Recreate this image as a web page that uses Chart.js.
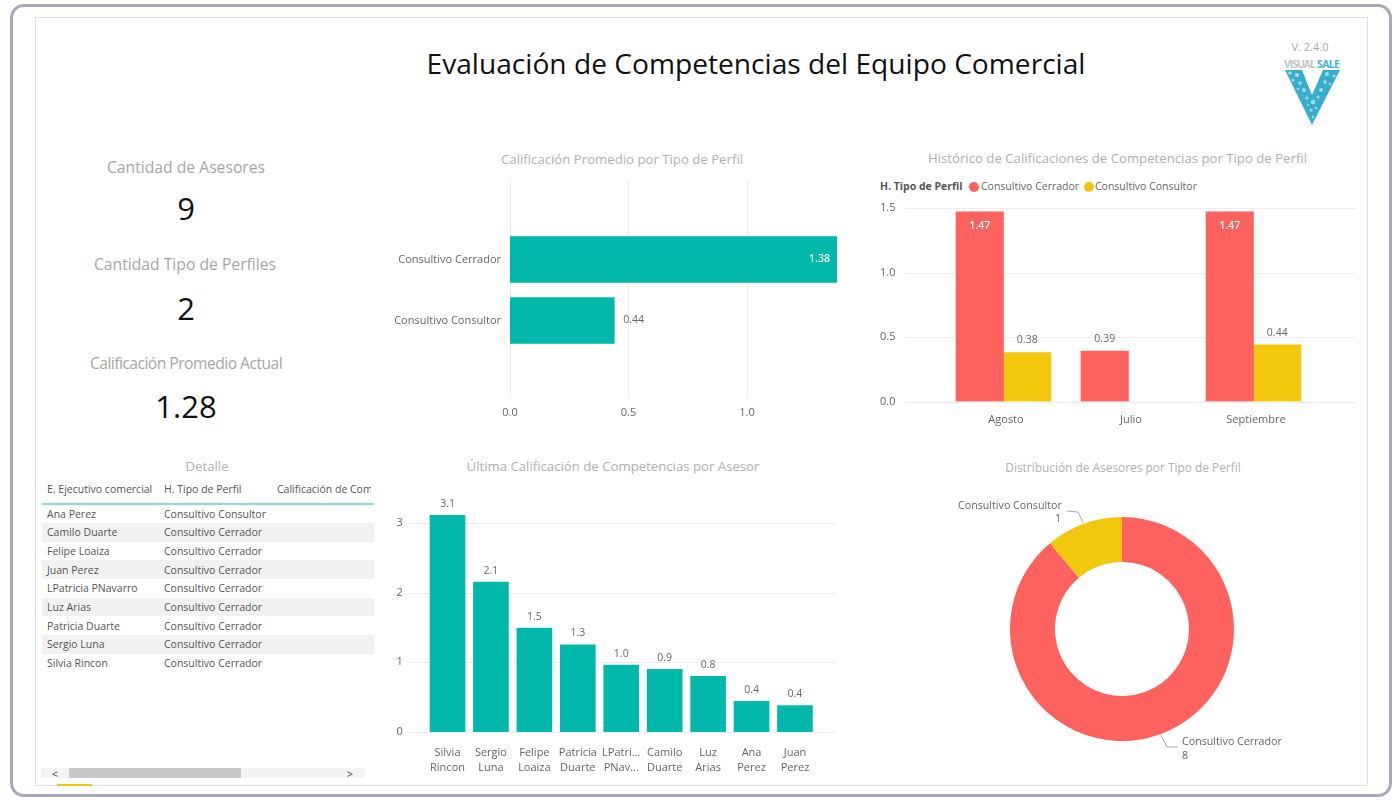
<!DOCTYPE html>
<html lang="es">
<head>
<meta charset="utf-8">
<title>Evaluación de Competencias del Equipo Comercial</title>
<script src="https://cdn.jsdelivr.net/npm/chart.js@4"></script>
<style>
html,body{margin:0;padding:0;background:#fff;width:1400px;height:800px;overflow:hidden;font-family:"Open Sans",sans-serif}
.abs{position:absolute}
.t{position:absolute;white-space:nowrap;transform:translate(-50%,-50%);line-height:1}
.sec{color:#b0b0b0;font-size:13.2px}
.kl{color:#a6a6a6;font-size:15.7px}
.kv{color:#111;font-size:31px}
canvas{position:absolute}
.cell{position:absolute;white-space:nowrap;font-size:10.5px;color:#555;line-height:1;transform:translateY(-50%)}
</style>
</head>
<body>
<div class="abs" style="left:10px;top:4px;width:1376px;height:787px;border:3px solid #a9a9ba;border-radius:14px"></div>
<div class="abs" style="left:35px;top:17px;width:1331px;height:767px;border:1px solid #e2e2e2"></div>
<div class="abs" style="left:57px;top:784px;width:35px;height:2px;background:#f2c80f"></div>

<div class="t" style="left:756px;top:63px;font-size:28.15px;color:#111">Evaluación de Competencias del Equipo Comercial</div>

<div class="t" style="left:1310px;top:46px;font-size:11px;color:#a8a8a8">V. 2.4.0</div>
<svg class="abs" style="left:1280px;top:55px" width="64" height="76" viewBox="0 0 64 76">
  <text x="4" y="13" font-family="Open Sans" font-size="10.5" font-weight="700" fill="#c4c4c4" textLength="32">VISUAL</text>
  <text x="37" y="13" font-family="Open Sans" font-size="10.5" font-weight="700" fill="#3fb2c9" textLength="23">SALE</text>
  <polygon points="5,15 22,15 32,40 43,15 60,15 32,70" fill="#38aecb"/>
  <g fill="#9fdcea">
    <circle cx="10" cy="18" r="1.8"/><circle cx="17" cy="20" r="2.2"/><circle cx="13" cy="25" r="1.5"/>
    <circle cx="20" cy="28" r="1.8"/><circle cx="24" cy="35" r="2"/><circle cx="18" cy="34" r="1.2"/>
    <circle cx="27" cy="43" r="1.6"/><circle cx="33" cy="47" r="2.2"/><circle cx="38" cy="42" r="1.5"/>
    <circle cx="47" cy="19" r="2"/><circle cx="54" cy="21" r="1.5"/><circle cx="45" cy="27" r="1.7"/>
    <circle cx="50" cy="29" r="1.2"/><circle cx="41" cy="35" r="1.9"/><circle cx="31" cy="55" r="1.6"/>
    <circle cx="36" cy="53" r="1.2"/><circle cx="33" cy="62" r="1.2"/><circle cx="28" cy="50" r="1.1"/>
  </g>
</svg>

<div class="t kl" style="left:186px;top:168px">Cantidad de Asesores</div>
<div class="t kv" style="left:186px;top:208px">9</div>
<div class="t kl" style="left:185px;top:265px">Cantidad Tipo de Perfiles</div>
<div class="t kv" style="left:186px;top:308px">2</div>
<div class="t kl" style="left:186px;top:364px;letter-spacing:-.55px">Calificación Promedio Actual</div>
<div class="t kv" style="left:186px;top:406px">1.28</div>

<div class="t sec" style="left:622px;top:159.5px">Calificación Promedio por Tipo de Perfil</div>
<div class="t sec" style="left:1117.5px;top:158.5px">Histórico de Calificaciones de Competencias por Tipo de Perfil</div>
<div class="t sec" style="left:207px;top:466.5px">Detalle</div>
<div class="t sec" style="left:613px;top:466.5px">Última Calificación de Competencias por Asesor</div>
<div class="t sec" style="left:1123px;top:467.5px;font-size:11.9px">Distribución de Asesores por Tipo de Perfil</div>

<div class="abs" style="left:880px;top:180px;font-size:10.5px;font-weight:700;color:#555;line-height:13px;white-space:nowrap">H. Tipo de Perfil</div>
<div class="abs" style="left:969px;top:181.5px;width:10px;height:10px;border-radius:50%;background:#fd625e"></div>
<div class="abs" style="left:981px;top:180px;font-size:10.5px;color:#666;line-height:13px;white-space:nowrap">Consultivo Cerrador</div>
<div class="abs" style="left:1084px;top:181.5px;width:10px;height:10px;border-radius:50%;background:#f2c80f"></div>
<div class="abs" style="left:1095px;top:180px;font-size:10.5px;color:#666;line-height:13px;white-space:nowrap">Consultivo Consultor</div>

<div id="tbl" class="abs" style="left:0;top:0"></div>
<div class="abs" style="left:41px;top:768px;width:324px;height:10px;background:#f3f3f3"></div>
<div class="abs" style="left:69px;top:768px;width:172px;height:10px;background:#c8c8c8"></div>
<div class="t" style="left:55px;top:773px;font-size:11px;color:#444">&lt;</div>
<div class="t" style="left:350px;top:773px;font-size:11px;color:#444">&gt;</div>

<canvas id="c1"></canvas>
<canvas id="c2"></canvas>
<canvas id="c3"></canvas>
<canvas id="c4"></canvas>

<script>
/* ---------- data ---------- */
const perfilLabels = ["Consultivo Cerrador", "Consultivo Consultor"];
const perfilPromedio = [1.38, 0.44];

const meses = ["Agosto", "Julio", "Septiembre"];
const histCerrador = [1.47, 0.39, 1.47];
const histConsultor = [0.38, null, 0.44];

const asesores = [["Silvia","Rincon"],["Sergio","Luna"],["Felipe","Loaiza"],["Patricia","Duarte"],["LPatri...","PNav..."],["Camilo","Duarte"],["Luz","Arias"],["Ana","Perez"],["Juan","Perez"]];
const ultimaCalif = [3.11, 2.15, 1.49, 1.25, 0.96, 0.9, 0.8, 0.44, 0.38];

const distribucion = [8, 1];

const tablaHeader = ["E. Ejecutivo comercial", "H. Tipo de Perfil", "Calificación de Competencias"];
const tablaNombres = ["Ana Perez","Camilo Duarte","Felipe Loaiza","Juan Perez","LPatricia PNavarro","Luz Arias","Patricia Duarte","Sergio Luna","Silvia Rincon"];
const tablaPerfiles = ["Consultivo Consultor","Consultivo Cerrador","Consultivo Cerrador","Consultivo Cerrador","Consultivo Cerrador","Consultivo Cerrador","Consultivo Cerrador","Consultivo Cerrador","Consultivo Cerrador"];

/* ---------- palette ---------- */
const TEAL="#01b8aa", RED="#fd625e", YEL="#f2c80f", GRID="#ececec", TICK="#666", FF='"Open Sans", sans-serif';
Chart.defaults.font.family = FF;
Chart.defaults.animation = false;
Chart.defaults.responsive = false;

/* ---------- table ---------- */
(function(){
  const t=document.getElementById('tbl'); let h='';
  const cols=[47,164,277];
  tablaHeader.forEach((s,i)=>{
    const w = i===2 ? 'width:94px;overflow:hidden;' : '';
    h+=`<div class="cell" style="left:${cols[i]}px;top:489px;${w}line-height:14px">${s}</div>`;
  });
  h+=`<div class="abs" style="left:42px;top:503px;width:332px;height:1.5px;background:#8fdcd6"></div>`;
  tablaNombres.forEach((n,i)=>{
    const y=513.5+i*18.7;
    if(i%2===1) h+=`<div class="abs" style="left:42px;top:${y-9.3}px;width:332px;height:18.7px;background:#f1f1f1"></div>`;
    h+=`<div class="cell" style="left:47px;top:${y}px">${n}</div>`;
    h+=`<div class="cell" style="left:164px;top:${y}px">${tablaPerfiles[i]}</div>`;
  });
  t.innerHTML=h;
})();

/* ---------- helpers ---------- */
function place(id,l,t,w,h){
  const c=document.getElementById(id);
  c.width=w;c.height=h;c.style.left=l+'px';c.style.top=t+'px';c.style.width=w+'px';c.style.height=h+'px';
  return c;
}
// pins the plotting band to fixed page coordinates
function areaPlugin(L,T,W,H,l,t,r,b){
  return {id:'fixArea',afterLayout(ch){
    const a={left:l-L,top:t-T,right:r-L,bottom:b-T};
    a.width=a.right-a.left;a.height=a.bottom-a.top;
    ch.chartArea=a;
    const x=ch.scales.x,y=ch.scales.y;
    x.left=a.left;x.right=a.right;x.width=a.width;x.top=a.bottom;x.bottom=H;x.height=H-a.bottom;
    y.left=0;y.right=a.left;y.width=a.left;y.top=a.top;y.bottom=a.bottom;y.height=a.height;
    x.configure();y.configure();
  }};
}
// grid lines that run beyond the plotting band, as in the original visuals
function gridPlugin(axis,a,b){
  return {id:'extGrid',beforeDatasetsDraw(ch){
    const s=ch.scales[axis],g=ch.ctx;g.save();g.strokeStyle=GRID;g.lineWidth=1;
    s.ticks.forEach(t=>{
      const p=Math.round(s.getPixelForValue(t.value))+.5;g.beginPath();
      if(axis==='x'){g.moveTo(p,a);g.lineTo(p,b);}else{g.moveTo(a,p);g.lineTo(b,p);}
      g.stroke();
    });g.restore();
  }};
}
// value labels computed from the bar elements
function labelPlugin(fmt,rule){
  return {id:'barLabels',afterDatasetsDraw(ch){
    const g=ch.ctx;g.save();g.font=`10.5px ${FF}`;
    ch.data.datasets.forEach((d,di)=>{
      ch.getDatasetMeta(di).data.forEach((el,i)=>{
        if(d.data[i]==null)return;
        rule(g,el,fmt(d.data[i]),d.data[i]);
      });
    });g.restore();
  }};
}
const baseTicks={color:TICK,font:{size:11}};
const noGrid={display:false,drawTicks:false};
const common={layout:{autoPadding:false},plugins:{legend:{display:false},tooltip:{enabled:false}}};

/* ---------- chart 1: promedio por tipo de perfil ---------- */
{
  const L=385,T=170,W=470,H=260;
  new Chart(place('c1',L,T,W,H),{
    type:'bar',
    data:{labels:perfilLabels,datasets:[{data:perfilPromedio,backgroundColor:TEAL,barThickness:46}]},
    options:{...common,indexAxis:'y',
      scales:{
        x:{min:0,max:1.38,grid:noGrid,border:{display:false},
          afterBuildTicks(s){s.ticks=s.ticks.filter(t=>t.value%0.5===0);},
          ticks:{...baseTicks,stepSize:.5,padding:55,callback:v=>v.toFixed(1)}},
        y:{grid:noGrid,border:{display:false},
          ticks:{...baseTicks,padding:9}}
      }},
    plugins:[areaPlugin(L,T,W,H,510,229,837,351),gridPlugin('x',180-T,398-T),labelPlugin(v=>v.toFixed(2),(g,el,txt,v)=>{
      g.textBaseline='middle';
      if(v>1){g.textAlign='right';g.fillStyle='#fff';g.font=`600 10.5px ${FF}`;g.fillText(txt,el.x-7,el.y);}
      else{g.textAlign='left';g.fillStyle='#666';g.font=`10.5px ${FF}`;g.fillText(txt,el.x+9,el.y);}
    })]
  });
}

/* ---------- chart 2: histórico ---------- */
{
  const L=870,T=195,W=500,H=235;
  new Chart(place('c2',L,T,W,H),{
    type:'bar',
    data:{labels:meses,datasets:[
      {label:perfilLabels[0],data:histCerrador,backgroundColor:RED,barThickness:47.5},
      {label:perfilLabels[1],data:histConsultor,backgroundColor:YEL,barThickness:47.5}]},
    options:{...common,
      scales:{
        x:{grid:noGrid,border:{display:false},
          ticks:{...baseTicks,padding:12,labelOffset:2.5}},
        y:{min:0,max:1.5,grid:noGrid,border:{display:false},
          ticks:{...baseTicks,stepSize:.5,padding:45.5,callback:v=>v.toFixed(1)}}
      }},
    plugins:[areaPlugin(L,T,W,H,941,208,1316,401.5),gridPlugin('y',905-L,1356-L),labelPlugin(v=>v.toFixed(2),(g,el,txt,v)=>{
      g.textAlign='center';g.textBaseline='middle';
      if(v>1){g.fillStyle='#fff';g.font=`600 10.5px ${FF}`;g.fillText(txt,el.x,el.y+14);}
      else{g.fillStyle='#666';g.font=`10.5px ${FF}`;g.fillText(txt,el.x,el.y-12);}
    })]
  });
}

/* ---------- chart 3: última calificación ---------- */
{
  const L=385,T=490,W=460,H=300;
  new Chart(place('c3',L,T,W,H),{
    type:'bar',
    data:{labels:asesores,datasets:[{data:ultimaCalif,backgroundColor:TEAL,barThickness:35}]},
    options:{...common,
      scales:{
        x:{grid:noGrid,border:{display:false},
          ticks:{...baseTicks,font:{size:11,lineHeight:1.36},padding:13,maxRotation:0,autoSkip:false}},
        y:{min:0,max:3.2,grid:noGrid,border:{display:false},
          afterBuildTicks(s){s.ticks=s.ticks.filter(t=>Number.isInteger(t.value));},
          ticks:{...baseTicks,stepSize:1,padding:23}}
      }},
    plugins:[areaPlugin(L,T,W,H,425.8,509,816.7,732),gridPlugin('y',408-L,835-L),labelPlugin(v=>v.toFixed(1),(g,el,txt)=>{
      g.textAlign='center';g.textBaseline='middle';g.fillStyle='#666';g.fillText(txt,el.x,el.y-11.5);
    })]
  });
}

/* ---------- chart 4: distribución ---------- */
{
  const L=950,T=490,W=344,H=278;
  const leader=[
    {i:0,bend:[1167,747],end:[1178,747],text:[1182,742],val:[1182,755.5],align:'left'},
    {i:1,bend:[1078,512],end:[1067,511],text:[958,505.5],val:[1061,518.5],align:'right'}
  ];
  new Chart(place('c4',L,T,W,H),{
    type:'doughnut',
    data:{labels:perfilLabels,datasets:[{data:distribucion,backgroundColor:[RED,YEL],borderWidth:0}]},
    options:{radius:112,cutout:'59.8%',rotation:0,
      plugins:{legend:{display:false},tooltip:{enabled:false}},
    },
    plugins:[{id:'donutLabels',afterDatasetsDraw(ch){
      const g=ch.ctx,arcs=ch.getDatasetMeta(0).data;g.save();
      g.font=`10.7px ${FF}`;g.textBaseline='middle';
      leader.forEach(o=>{
        const a=arcs[o.i],ang=(a.startAngle+a.endAngle)/2;
        const sx=a.x+Math.cos(ang)*(a.outerRadius+1),sy=a.y+Math.sin(ang)*(a.outerRadius+1);
        g.strokeStyle='#aaa';g.lineWidth=1;g.beginPath();g.moveTo(sx,sy);
        g.lineTo(o.bend[0]-L,o.bend[1]-T);g.lineTo(o.end[0]-L,o.end[1]-T);g.stroke();
        g.fillStyle='#666';g.textAlign='left';g.fillText(ch.data.labels[o.i],o.text[0]-L,o.text[1]-T);
        g.textAlign=o.align;g.fillText(String(ch.data.datasets[0].data[o.i]),o.val[0]-L,o.val[1]-T);
      });
      g.restore();
    }}]
  });
}
</script>
</body>
</html>
